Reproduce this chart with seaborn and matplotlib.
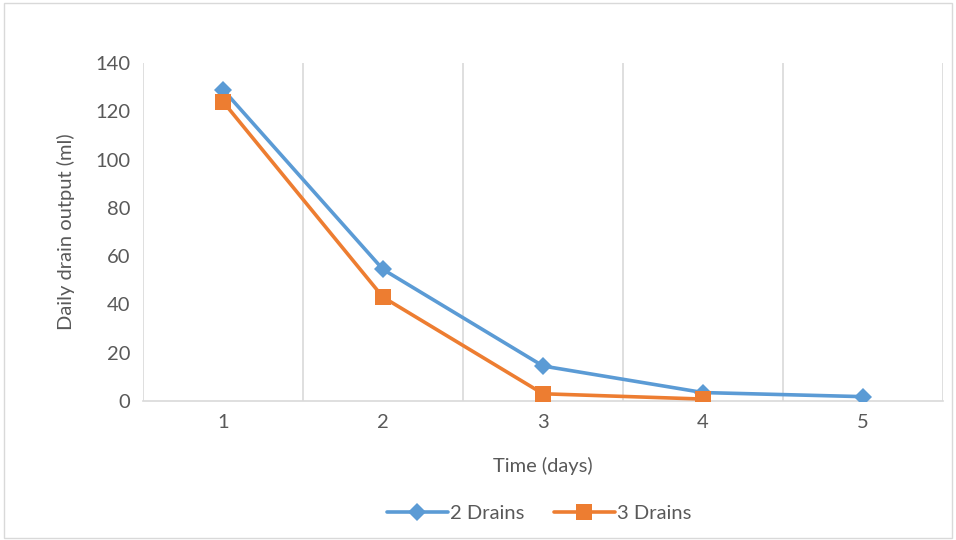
import numpy as np
import pandas as pd
import matplotlib.pyplot as plt
import seaborn as sns

days = [1, 2, 3, 4, 5]
drains2 = [129, 54.5, 14.5, 3.5, 1.8]
drains3 = [124, 43, 3, 0.8, np.nan]
series = ['2 Drains', '3 Drains']
colors = ['#5B9BD5', '#ED7D31']

df = pd.DataFrame({
    'day': days * 2,
    'output': drains2 + drains3,
    'series': [series[0]] * 5 + [series[1]] * 5,
})

sns.set_style('white')
plt.rcParams['font.family'] = ['Lato', 'DejaVu Sans']
txt = '#595959'
fs = 14.5

fig = plt.figure(figsize=(9.56, 5.4), dpi=100)
ax = fig.add_axes([0.1496, 0.2574, 0.8368, 0.6259])

sns.lineplot(data=df, x='day', y='output', hue='series', style='series',
             palette=colors, markers={'2 Drains': 'D', '3 Drains': 's'},
             dashes=False, linewidth=2.6, markersize=11.5, markeredgewidth=0,
             ax=ax)
# diamond a bit smaller than the square, orange on top
ax.lines[0].set_markersize(9.5)
ax.lines[0].set_zorder(3)
ax.lines[1].set_zorder(4)

ax.set_xlim(0.5, 5.5)
ax.set_ylim(0, 140)
ax.set_yticks(range(0, 141, 20))
ax.set_xticks(days)
for xv in np.arange(0.5, 5.6, 1):
    ax.axvline(xv, color='#D9D9D9', lw=1.2, zorder=0)
for s in ['top', 'right', 'left']:
    ax.spines[s].set_visible(False)
ax.spines['bottom'].set_color('#D9D9D9')
ax.spines['bottom'].set_linewidth(1.2)
ax.tick_params(axis='both', length=0, labelsize=fs, colors=txt, pad=9)
ax.set_xlabel('Time (days)', fontsize=fs, color=txt, labelpad=19)
ax.set_ylabel('Daily drain output (ml)', fontsize=fs, color=txt, labelpad=15)

leg = ax.legend(loc='upper center', bbox_to_anchor=(0.495, -0.255), ncol=2,
                frameon=False, fontsize=fs, labelcolor=txt, handlelength=3.0,
                columnspacing=1.5, handletextpad=0.1)
leg.legend_handles[0].set_markersize(9.5)

fig.patches.append(plt.Rectangle((0.004, 0.004), 0.992, 0.99, transform=fig.transFigure,
                                 fill=False, edgecolor='#D9D9D9', lw=1))
fig.savefig('out.png', dpi=100)
